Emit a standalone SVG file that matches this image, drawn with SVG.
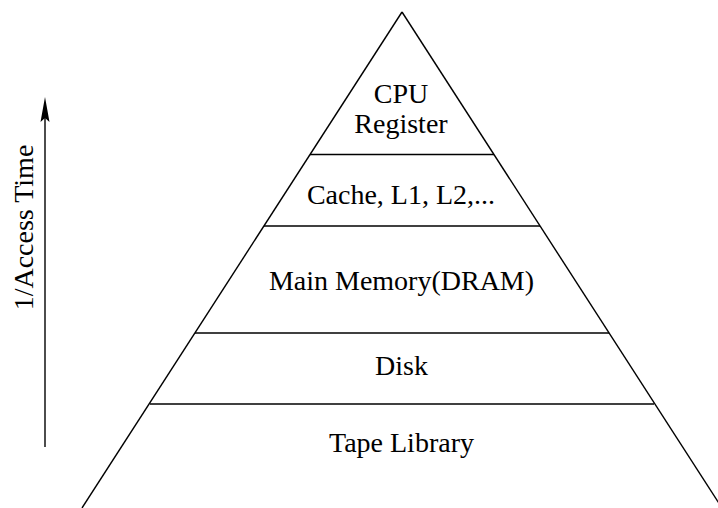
<svg xmlns="http://www.w3.org/2000/svg" width="718" height="508" viewBox="0 0 718 508">
  <style>
    .edge { stroke: #000; stroke-width: 1.4; fill: none; stroke-linecap: butt; }
    .label { font-family: "Liberation Serif", "Times New Roman", serif; font-size: 28px; fill: #000; text-anchor: middle; }
  </style>
  <defs>
    <marker id="arrowhead" viewBox="0 0 10 26" refX="5" refY="0" markerWidth="10" markerHeight="26" markerUnits="userSpaceOnUse" orient="auto-start-reverse">
      <path d="M5,0 L9.5,25 L5,21 L0.5,25 Z" fill="#000"/>
    </marker>
  </defs>
  <rect width="718" height="508" fill="#fff"/>

  <!-- pyramid outline and level separators -->
  <g id="connectors">
    <line class="edge" x1="402" y1="12" x2="82" y2="508"/>
    <line class="edge" x1="402" y1="12" x2="722" y2="508"/>
    <line class="edge" x1="310" y1="154.5" x2="494" y2="154.5"/>
    <line class="edge" x1="264" y1="226" x2="540" y2="226"/>
    <line class="edge" x1="195" y1="333" x2="609" y2="333"/>
    <line class="edge" x1="150" y1="404" x2="654" y2="404"/>
    <!-- speed axis -->
    <line class="edge" x1="45" y1="447" x2="45" y2="110"/>
    <path d="M45,97 L49.5,122 L45,118 L40.5,122 Z" fill="#000"/>
  </g>

  <g id="axis-label">
    <text class="label" transform="translate(33,227.5) rotate(-90)" x="0" y="0">1/Access Time</text>
  </g>

  <g id="cpu-register">
    <text class="label" x="401" y="103">CPU</text>
    <text class="label" x="401" y="133">Register</text>
  </g>
  <g id="cache">
    <text class="label" x="401" y="204">Cache, L1, L2,...</text>
  </g>
  <g id="main-memory">
    <text class="label" x="401.5" y="290">Main Memory(DRAM)</text>
  </g>
  <g id="disk">
    <text class="label" x="401.5" y="375">Disk</text>
  </g>
  <g id="tape-library">
    <text class="label" x="401.5" y="452">Tape Library</text>
  </g>
</svg>
